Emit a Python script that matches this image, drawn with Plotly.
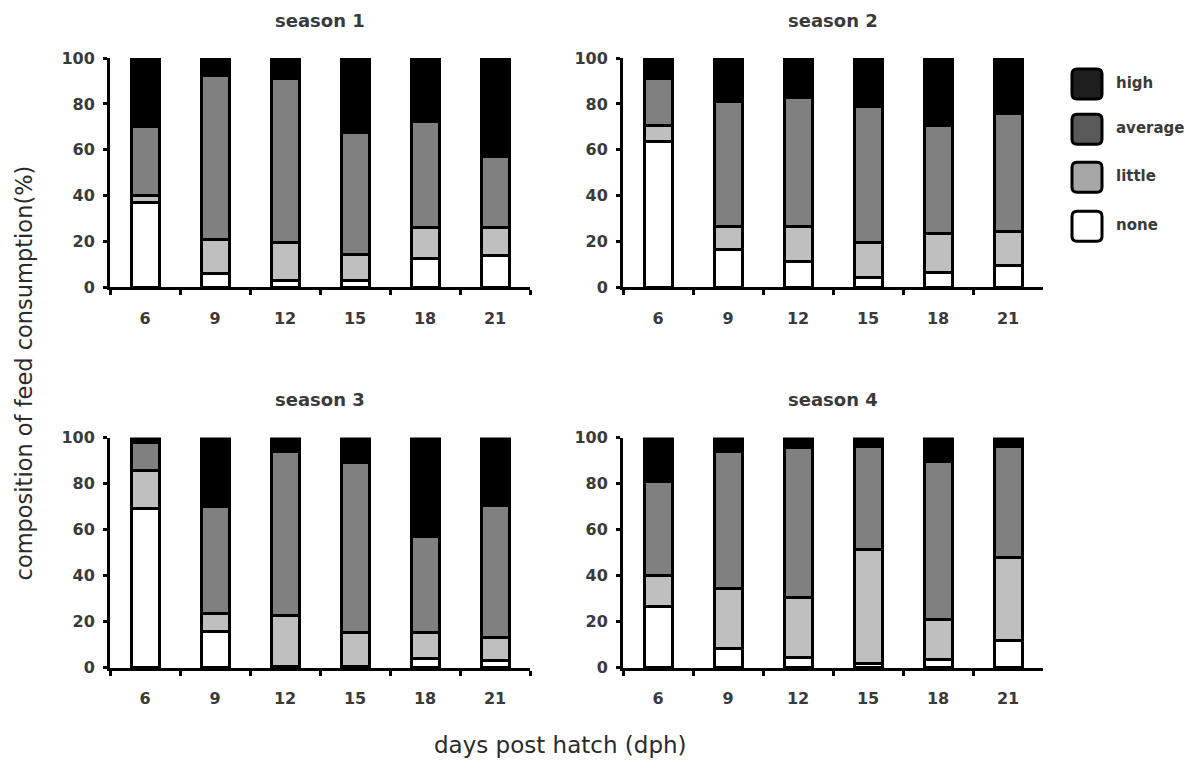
import plotly.graph_objects as go

days = ["6", "9", "12", "15", "18", "21"]
categories = ["none", "little", "average", "high"]

s1_none = [37, 6, 3, 3, 12.5, 14]
s1_little = [3, 15, 16.5, 11.5, 13.5, 12]
s1_average = [30, 71.5, 71.5, 53, 46.5, 31]
s1_high = [30, 7.5, 9, 32.5, 27.5, 43]

s2_none = [63.5, 16.5, 11.5, 4.5, 6.5, 9.5]
s2_little = [7, 10, 15, 15, 17, 15]
s2_average = [20.5, 54.5, 56.5, 59.5, 47, 51.5]
s2_high = [9, 19, 17, 21, 29.5, 24]

s3_none = [69, 16, 0.7, 0.5, 4, 3]
s3_little = [16.5, 7.5, 22, 15, 11.5, 10]
s3_average = [12.5, 46.5, 71.3, 73.5, 41.5, 57.5]
s3_high = [2, 30, 6, 11, 43, 29.5]

s4_none = [26.5, 8.5, 4.5, 2, 3.5, 12]
s4_little = [13.5, 26, 26, 49.5, 17.5, 36]
s4_average = [41, 59.5, 65, 44.5, 68.5, 48]
s4_high = [19, 6, 4.5, 4, 10.5, 4]

seasons = [
    ("season 1", [s1_none, s1_little, s1_average, s1_high]),
    ("season 2", [s2_none, s2_little, s2_average, s2_high]),
    ("season 3", [s3_none, s3_little, s3_average, s3_high]),
    ("season 4", [s4_none, s4_little, s4_average, s4_high]),
]
legend_order = ["high", "average", "little", "none"]

fills = {"none": "#ffffff", "little": "#bfbfbf", "average": "#808080", "high": "#000000"}
legend_fills = {"high": "#1e1e1e", "average": "#595959", "little": "#a6a6a6", "none": "#ffffff"}

W, H = 1191, 760
FONT = "DejaVu Sans"
TXT = "#3a3a3a"

boxes = [(110, 530, 59, 288), (623, 1043, 59, 288),
         (110, 530, 438, 668), (623, 1043, 438, 668)]

fig = go.Figure()
layout = dict(
    width=W, height=H, margin=dict(l=0, r=0, t=0, b=0),
    paper_bgcolor="white", plot_bgcolor="white",
    barmode="stack", showlegend=False,
    font=dict(family=FONT, color=TXT),
)
annotations = []
shapes = []


def px(x):
    return x / W


def py(y):
    return 1 - (y - 10) / 740


for i, (title, vals) in enumerate(seasons):
    n = i + 1
    xa = "x" if n == 1 else f"x{n}"
    ya = "y" if n == 1 else f"y{n}"
    for cat, v in zip(categories, vals):
        fig.add_trace(go.Bar(
            x=days, y=v, name=cat, xaxis=xa, yaxis=ya,
            marker=dict(color=fills[cat], line=dict(color="black", width=3)),
            width=0.4,
        ))
    x0, x1, yt, yb = boxes[i]
    key = "" if n == 1 else str(n)
    layout["xaxis" + key] = dict(
        domain=[px(x0), px(x1)], anchor=ya, type="category", showline=True, linewidth=3,
        linecolor="black", ticks="outside", tickson="boundaries", ticklen=5,
        tickwidth=3, tickcolor="black", showgrid=False, zeroline=False,
        range=[-0.5, 5.5], ticklabelstandoff=14,
        tickfont=dict(family=FONT, size=16, color=TXT, weight="bold"),
    )
    layout["yaxis" + key] = dict(
        domain=[py(yb), py(yt)], anchor=xa, range=[0, 100], tickvals=[0, 20, 40, 60, 80, 100],
        showline=True, linewidth=3, linecolor="black", ticks="outside",
        ticklen=4, tickwidth=3, tickcolor="black", showgrid=False, zeroline=False,
        ticklabelstandoff=5,
        tickfont=dict(family=FONT, size=16, color=TXT, weight="bold"),
    )
    annotations.append(dict(
        text=f"<b>{title}</b>", xref="paper", yref="paper",
        x=(x0 + x1) / 2 / W, y=py(yt - 38), xanchor="center", yanchor="middle",
        showarrow=False, font=dict(family=FONT, size=18, color=TXT),
    ))

annotations.append(dict(
    text="composition of feed consumption(%)", xref="paper", yref="paper",
    x=px(24), y=py(374), textangle=-90, xanchor="center", yanchor="middle",
    showarrow=False, font=dict(family=FONT, size=22.5, color="#2a2a2a"),
))
annotations.append(dict(
    text="days post hatch (dph)", xref="paper", yref="paper",
    x=px(560), y=py(745), xanchor="center", yanchor="middle",
    showarrow=False, font=dict(family=FONT, size=23, color="#2a2a2a"),
))

leg_y = [85, 130, 178, 227]
for cat, cy in zip(legend_order, leg_y):
    sx0, sx1 = 1072, 1102
    sy0, sy1 = cy - 15, cy + 15
    r = 5
    path = (f"M {px(sx0+r)},{py(sy0)} L {px(sx1-r)},{py(sy0)} Q {px(sx1)},{py(sy0)} {px(sx1)},{py(sy0+r)} "
            f"L {px(sx1)},{py(sy1-r)} Q {px(sx1)},{py(sy1)} {px(sx1-r)},{py(sy1)} L {px(sx0+r)},{py(sy1)} "
            f"Q {px(sx0)},{py(sy1)} {px(sx0)},{py(sy1-r)} L {px(sx0)},{py(sy0+r)} Q {px(sx0)},{py(sy0)} {px(sx0+r)},{py(sy0)} Z")
    shapes.append(dict(type="path", xref="paper", yref="paper", path=path,
                       fillcolor=legend_fills[cat], line=dict(color="black", width=3)))
    annotations.append(dict(
        text=f"<b>{cat}</b>", xref="paper", yref="paper", x=px(1114), y=py(cy - 1),
        xanchor="left", yanchor="middle", showarrow=False,
        font=dict(family=FONT, size=15, color=TXT),
    ))

layout["annotations"] = annotations
layout["shapes"] = shapes
fig.update_layout(**layout)
fig.write_html("out.html", config={"displayModeBar": False},
               post_script="document.body.style.margin='0';document.body.style.overflow='hidden';")
